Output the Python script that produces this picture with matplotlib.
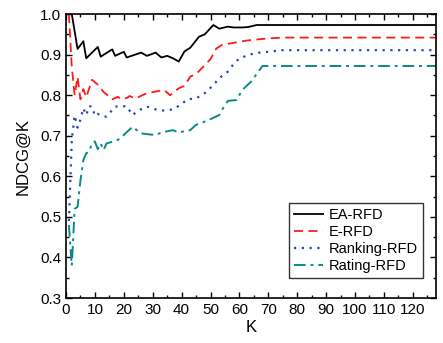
import numpy as np
import matplotlib.pyplot as plt
from matplotlib.ticker import MultipleLocator

plt.rcParams['font.family'] = ['Liberation Sans', 'DejaVu Sans']

# EA-RFD
k_ea = [1, 2, 4, 6, 7, 11, 12, 16, 17, 20, 21, 26, 28, 31, 33, 35, 37, 39,
        41, 43, 46, 48, 51, 53, 56, 58, 61, 63, 66, 68, 75, 90, 110, 128]
ndcg_ea = [1.0, 1.0, 0.914, 0.933, 0.891, 0.919, 0.895, 0.913, 0.897, 0.907,
           0.893, 0.905, 0.897, 0.905, 0.893, 0.897, 0.891, 0.883,
           0.908, 0.917, 0.944, 0.95, 0.973, 0.964, 0.969, 0.967, 0.967,
           0.968, 0.973, 0.973, 0.973, 0.973, 0.973, 0.973]

# E-RFD
k_e = [1, 2, 3, 4, 5, 6, 7, 9, 11, 13, 16, 18, 19, 21, 22, 24, 28, 31, 34,
       36, 39, 41, 43, 45, 48, 50, 52, 54, 58, 60, 64, 67, 70, 75, 90, 110, 128]
ndcg_e = [1.0, 0.87, 0.80, 0.845, 0.79, 0.815, 0.795, 0.838, 0.826, 0.808,
          0.79, 0.796, 0.79, 0.793, 0.798, 0.792, 0.805, 0.809, 0.813,
          0.80, 0.817, 0.823, 0.846, 0.852, 0.874, 0.889, 0.915, 0.924,
          0.929, 0.932, 0.936, 0.938, 0.94, 0.942, 0.942, 0.942, 0.942]

# Ranking-RFD
k_rank = [1, 2, 3, 4, 5, 6, 7, 8, 9, 10, 11, 12, 14, 17, 21, 23, 25, 28,
          31, 34, 37, 40, 42, 45, 48, 51, 53, 56, 58, 60, 64, 67, 70, 75,
          90, 110, 128]
ndcg_rank = [0.49, 0.69, 0.75, 0.72, 0.74, 0.768, 0.751, 0.773, 0.772,
             0.749, 0.754, 0.75, 0.747, 0.772, 0.773, 0.751, 0.762, 0.772,
             0.765, 0.762, 0.765, 0.778, 0.79, 0.792, 0.805, 0.825, 0.842,
             0.858, 0.877, 0.891, 0.901, 0.905, 0.907, 0.911, 0.911, 0.911,
             0.911]

# Rating-RFD
k_rate = [1, 2, 3, 4, 5, 6, 7, 8, 9, 10, 11, 12, 13, 14, 15, 18, 20, 23,
          26, 28, 31, 33, 37, 39, 42, 43, 45, 48, 50, 53, 54, 56, 59, 61,
          64, 68, 75, 90, 110, 128]
ndcg_rate = [0.48, 0.38, 0.52, 0.525, 0.59, 0.64, 0.657, 0.66, 0.682,
             0.686, 0.667, 0.681, 0.665, 0.681, 0.683, 0.69, 0.702, 0.722,
             0.706, 0.704, 0.702, 0.708, 0.714, 0.708, 0.713, 0.714, 0.727,
             0.735, 0.741, 0.751, 0.764, 0.786, 0.788, 0.813, 0.833, 0.872,
             0.872, 0.872, 0.872, 0.872]

fig = plt.figure(figsize=(4.43, 3.43), dpi=100)
ax = fig.add_axes([0.149, 0.131, 0.835, 0.828])

ax.plot(k_ea, ndcg_ea, '-', color='black', lw=1.3, label='EA-RFD')
ax.plot(k_e, ndcg_e, '--', color='#ff1a1a', lw=1.3, dashes=(5, 3), label='E-RFD')
ax.plot(k_rank, ndcg_rank, ':', color='#2a46b0', lw=1.6, dashes=(1, 2.5),
        label='Ranking-RFD')
ax.plot(k_rate, ndcg_rate, '-.', color='#0a8a84', lw=1.4,
        dashes=(6, 2.5, 1.5, 2.5), label='Rating-RFD')

ax.set_xlim(0, 128)
ax.set_ylim(0.3, 1.0)
ax.xaxis.set_major_locator(MultipleLocator(10))
ax.xaxis.set_minor_locator(MultipleLocator(5))
ax.yaxis.set_major_locator(MultipleLocator(0.1))
ax.yaxis.set_minor_locator(MultipleLocator(0.05))
ax.tick_params(which='both', direction='in', top=True, right=True, labelsize=11)
ax.tick_params(which='major', length=4, width=1)
ax.tick_params(which='minor', length=2.5, width=1)
for s in ax.spines.values():
    s.set_linewidth(1.2)

ax.set_xlabel('K', fontsize=12, labelpad=2)
ax.set_ylabel('NDCG@K', fontsize=12, labelpad=7)

leg = ax.legend(loc='lower right', bbox_to_anchor=(0.965, 0.07), fontsize=10.5,
                frameon=True, fancybox=False, edgecolor='black',
                handlelength=2.0, borderpad=0.35, labelspacing=0.2,
                handletextpad=0.4, borderaxespad=0)
leg.get_frame().set_linewidth(1.0)

fig.savefig('out.png', dpi=100)
